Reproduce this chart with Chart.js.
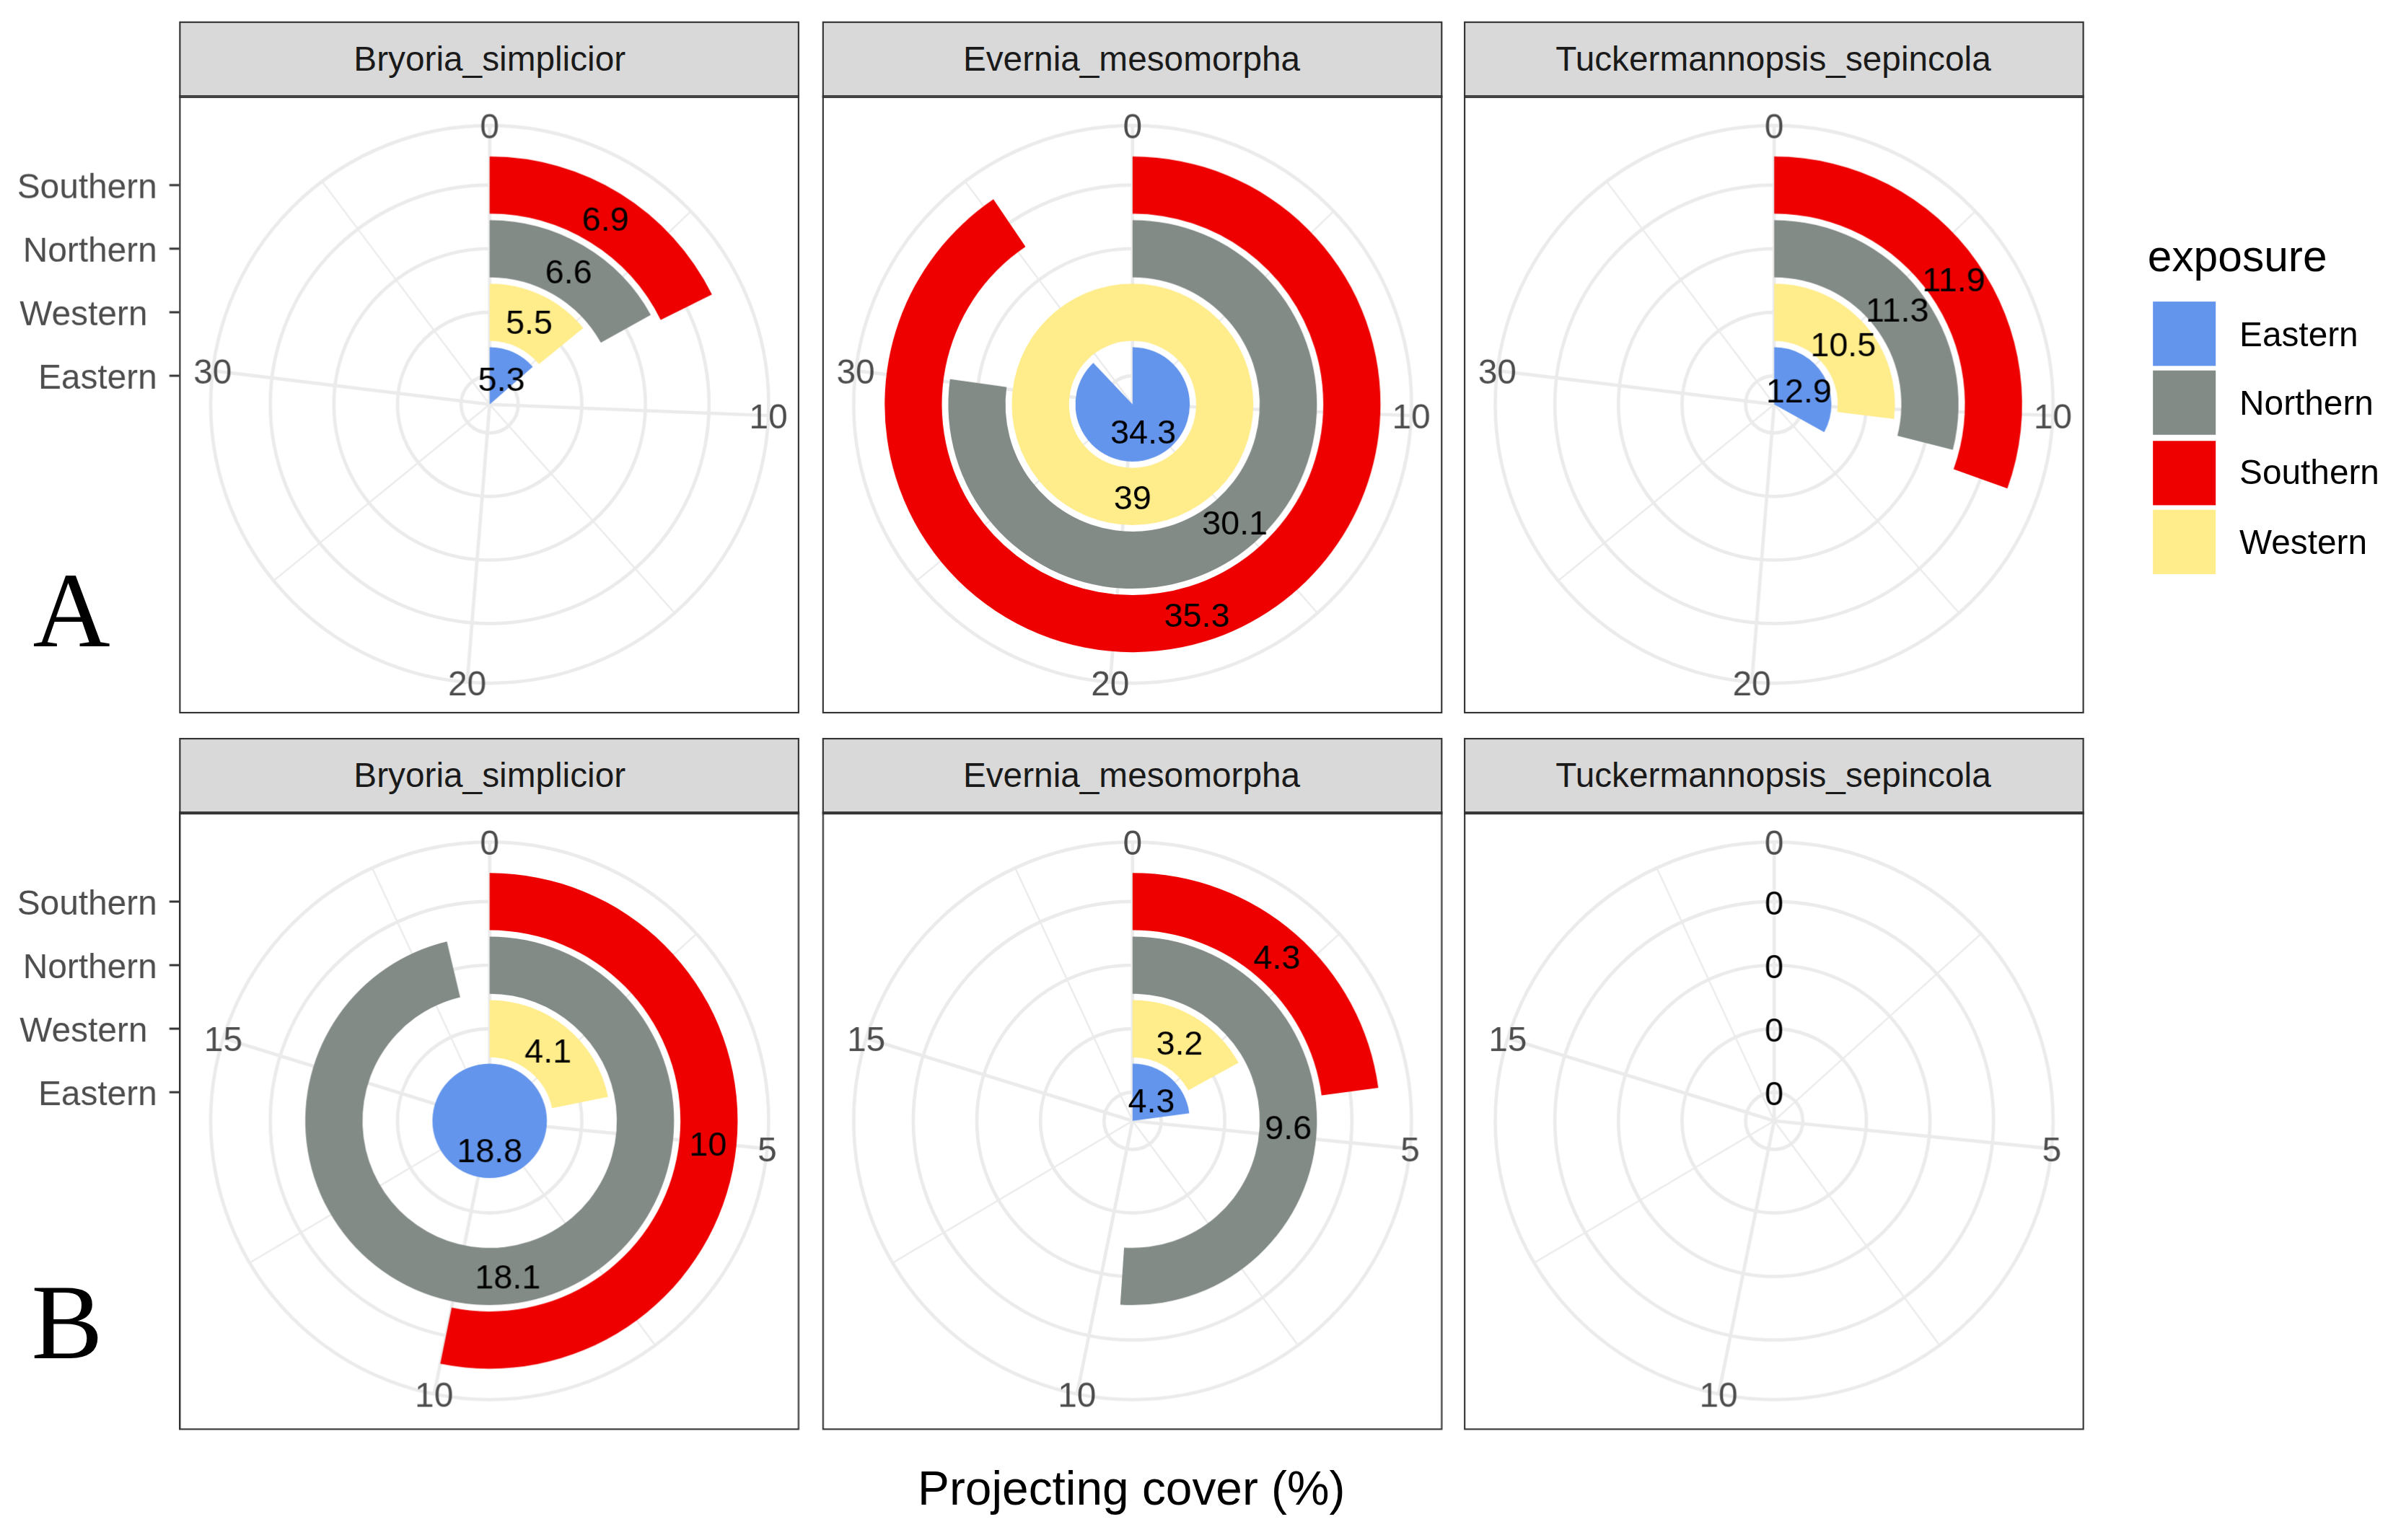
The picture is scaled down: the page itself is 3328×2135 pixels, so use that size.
<!DOCTYPE html>
<html lang="en">
<head>
<meta charset="UTF-8">
<title>Projecting cover by exposure</title>
<style>
  html, body { margin: 0; padding: 0; background: #fff; overflow: hidden; }
  #page { position: absolute; left: 0; top: 0; width: 1568px; height: 1006px; transform-origin: 0 0;
          font-family: "Liberation Sans", Arial, sans-serif; }
  .strip { position: absolute; box-sizing: border-box; background: #D9D9D9; border: 1.4px solid #333;
           color: #1A1A1A; font-size: 22.5px; text-align: center; white-space: nowrap; }
  .frame { position: absolute; box-sizing: border-box; border: 1.4px solid #333; pointer-events: none; }
  canvas { position: absolute; }
  .tag { position: absolute; width: 100px; text-align: center; color: #000;
         font-family: "Liberation Serif", "Times New Roman", serif; font-size: 70px; line-height: 70px; }
  .ltitle { position: absolute; font-size: 28.5px; line-height: 28.5px; color: #000; }
  .lkey { position: absolute; width: 41.5px; height: 42px; }
  .ltext { position: absolute; font-size: 22.5px; line-height: 22.5px; color: #000; }
  .xtitle { position: absolute; width: 600px; text-align: center; font-size: 31px; line-height: 31px; color: #000; }
</style>
</head>
<body>
<div id="page"></div>

<script src="https://cdn.jsdelivr.net/npm/chart.js@4.4.1/dist/chart.umd.min.js"></script>
<script>
// ---- data ----
const speciesNames = ['Bryoria_simplicior', 'Evernia_mesomorpha', 'Tuckermannopsis_sepincola'];
const legendNames = ['Eastern', 'Northern', 'Southern', 'Western'];
// rings from the centre outwards
const ringNames = ['Eastern', 'Western', 'Northern', 'Southern'];
const ringAxisLabels = ['Eastern', 'Western ', 'Northern', 'Southern'];

// A: values per species
const easternA = [5.3, 34.3, 12.9];
const westernA = [5.5, 39, 10.5];
const northernA = [6.6, 30.1, 11.3];
const southernA = [6.9, 35.3, 11.9];
// B: values per species
const easternB = [18.8, 4.3, 0];
const westernB = [4.1, 3.2, 0];
const northernB = [18.1, 9.6, 0];
const southernB = [10, 4.3, 0];

const thetaBreaksA = [0, 10, 20, 30];
const thetaMinorA = [5, 15, 25, 35];
const thetaBreaksB = [0, 5, 10, 15];
const thetaMinorB = [2.5, 7.5, 12.5, 17.5];

const exposureColors = {
  Eastern: '#6495ED',
  Northern: '#838B87',
  Southern: '#EE0000',
  Western: '#FFEC8B'
};

// ---- layout (in units of the 1568 px wide figure, scaled up at the end) ----
const S = 3328 / 1568;
const page = document.getElementById('page');
page.style.transform = 'scale(' + S + ')';

const colLeft = [117.3, 536.5, 955.6];
const panelW = 405, bodyH = 404, stripH = 48.7;
const axisRoom = 117;
const R40 = 161.8;   // radius of the outer edge of the outermost bar
const textDrop = 2.3; // canvas 'middle' sits a little high for this font

const rows = [
  { tag: 'A', bodyTop: 62.2, tagTop: 364, tagX: 46.7,
    rings: [easternA, westernA, northernA, southernA], breaks: thetaBreaksA, minor: thetaMinorA },
  { tag: 'B', bodyTop: 530.2, tagTop: 829.4, tagX: 43.8,
    rings: [easternB, westernB, northernB, southernB], breaks: thetaBreaksB, minor: thetaMinorB }
];

function el(cls, css, text) {
  const d = document.createElement('div');
  d.className = cls;
  Object.assign(d.style, css);
  if (text !== undefined) d.textContent = text;
  page.appendChild(d);
  return d;
}

function polarDecor(row, withAxis, thetaMax) {
  const ringIdx = [6, 4, 2, 0];   // dataset index of each ring, inner -> outer
  function angleOf(v) { return -Math.PI / 2 + v / thetaMax * Math.PI * 2; }
  return {
    id: 'polarDecor',
    beforeDatasetsDraw(chart) {
      const ctx = chart.ctx;
      const outer = chart.getDatasetMeta(0).data[0];
      const cx = outer.x, cy = outer.y;
      const rEdge = outer.outerRadius * 0.45 / 0.4;
      ctx.save();
      ctx.strokeStyle = '#EBEBEB';
      ctx.lineWidth = 1.1;
      row.minor.forEach(v => {
        const a = angleOf(v);
        ctx.beginPath();
        ctx.moveTo(cx, cy);
        ctx.lineTo(cx + rEdge * Math.cos(a), cy + rEdge * Math.sin(a));
        ctx.stroke();
      });
      ctx.lineWidth = 2.2;
      row.breaks.forEach(v => {
        const a = angleOf(v);
        ctx.beginPath();
        ctx.moveTo(cx, cy);
        ctx.lineTo(cx + rEdge * Math.cos(a), cy + rEdge * Math.sin(a));
        ctx.stroke();
      });
      const radii = ringIdx.map(i => {
        const a = chart.getDatasetMeta(i).data[0];
        return (a.innerRadius + a.outerRadius) / 2;
      });
      radii.concat([rEdge]).forEach(r => {
        ctx.beginPath();
        ctx.arc(cx, cy, r, 0, Math.PI * 2);
        ctx.stroke();
      });
      ctx.restore();
    },
    afterDatasetsDraw(chart) {
      const ctx = chart.ctx;
      const outer = chart.getDatasetMeta(0).data[0];
      const cx = outer.x, cy = outer.y;
      const rEdge = outer.outerRadius * 0.45 / 0.4;
      ctx.save();
      ctx.textAlign = 'center';
      ctx.textBaseline = 'middle';
      // value labels in the middle of each bar
      ctx.fillStyle = '#000';
      ctx.font = '22px "Liberation Sans", Arial, sans-serif';
      ringIdx.forEach(i => {
        const a = chart.getDatasetMeta(i).data[0];
        const ang = (a.startAngle + a.endAngle) / 2;
        const r = (a.innerRadius + a.outerRadius) / 2;
        const v = chart.data.datasets[i].data[0];
        ctx.fillText(String(v), cx + r * Math.cos(ang), cy + r * Math.sin(ang) + textDrop);
      });
      // theta tick labels
      ctx.fillStyle = '#4D4D4D';
      ctx.font = '22.5px "Liberation Sans", Arial, sans-serif';
      row.breaks.forEach(v => {
        const a = angleOf(v);
        ctx.fillText(String(v), cx + rEdge * Math.cos(a), cy + rEdge * Math.sin(a) + textDrop);
      });
      // radial axis (exposure) on the left of the first panel
      if (withAxis) {
        const left = chart.chartArea.left;
        ctx.textAlign = 'right';
        ctx.strokeStyle = '#333';
        ctx.lineWidth = 1.4;
        ringIdx.forEach((i, k) => {
          const a = chart.getDatasetMeta(i).data[0];
          const y = cy - (a.innerRadius + a.outerRadius) / 2;
          ctx.beginPath();
          ctx.moveTo(left - 6.5, y);
          ctx.lineTo(left, y);
          ctx.stroke();
          ctx.fillText(ringAxisLabels[k], left - 14.5, y + textDrop);
        });
      }
      ctx.restore();
    }
  };
}

rows.forEach(row => {
  const thetaMax = Math.max(...row.rings.flat());
  speciesNames.forEach((sp, c) => {
    const x = colLeft[c];
    el('strip', { left: x + 'px', top: (row.bodyTop - stripH) + 'px', width: panelW + 'px',
                  height: (stripH + 1.4) + 'px', lineHeight: (stripH - 1.4) + 'px' }, sp);

    const pad = c === 0 ? axisRoom : 0;
    const cv = document.createElement('canvas');
    cv.setAttribute('width', panelW + pad);
    cv.setAttribute('height', bodyH);
    cv.style.left = (x - pad) + 'px';
    cv.style.top = row.bodyTop + 'px';
    page.appendChild(cv);

    // datasets from the outermost ring inwards, with thin empty rings as gaps
    const datasets = [];
    for (let k = ringNames.length - 1; k >= 0; k--) {
      const v = row.rings[k][c];
      datasets.push({
        label: ringNames[k],
        data: [v, thetaMax - v],
        backgroundColor: [exposureColors[ringNames[k]], 'rgba(0,0,0,0)'],
        borderWidth: 0,
        weight: 0.9
      });
      if (k > 0) {
        datasets.push({ label: 'gap', data: [thetaMax], backgroundColor: ['rgba(0,0,0,0)'],
                        borderWidth: 0, weight: 0.1 });
      }
    }

    new Chart(cv, {
      type: 'doughnut',
      data: { labels: [ringNames[0], 'rest'], datasets: datasets },
      options: {
        responsive: false,
        devicePixelRatio: S,
        animation: false,
        events: [],
        cutout: 0,
        radius: R40,
        rotation: 0,
        circumference: 360,
        layout: { padding: { left: pad } },
        plugins: { legend: { display: false }, tooltip: { enabled: false } }
      },
      plugins: [polarDecor(row, c === 0, thetaMax)]
    });

    el('frame', { left: x + 'px', top: row.bodyTop + 'px', width: panelW + 'px', height: bodyH + 'px' });
  });
  el('tag', { left: (row.tagX - 50) + 'px', top: row.tagTop + 'px' }, row.tag);
});

// legend
el('ltitle', { left: '1402.5px', top: '153px' }, 'exposure');
const keyTops = [197, 242.3, 287.7, 333];
legendNames.forEach((name, i) => {
  el('lkey', { left: '1405.5px', top: keyTops[i] + 'px', background: exposureColors[name] });
  el('ltext', { left: '1462.5px', top: (keyTops[i] + 21 - 10.5) + 'px' }, name);
});

// x axis title
el('xtitle', { left: (738.9 - 300) + 'px', top: '956.5px' }, 'Projecting cover (%)');
</script>
</body>
</html>
